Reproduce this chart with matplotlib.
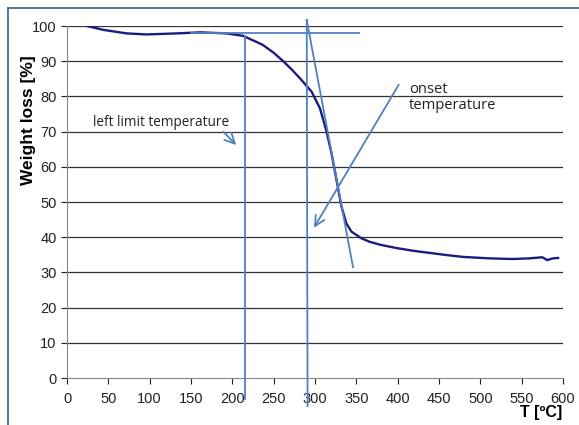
import matplotlib.pyplot as plt
from matplotlib.lines import Line2D

# TGA curve
temp = [24, 44, 72, 96, 133, 161, 193, 213, 229, 237, 250, 262, 272, 282, 296, 306, 314, 320, 326, 332, 338, 344, 356, 366,
        380, 399, 420, 440, 460, 479, 510, 539, 560, 575, 581, 588, 594]
weight = [100, 98.9, 97.9, 97.6, 97.9, 98.2, 97.9, 97.2, 95.5, 94.6, 92.4, 89.9, 87.6, 85.1, 81.3, 76.6, 70.0, 63.8, 56.3, 48.7, 43.9, 41.6, 39.7, 38.7,
          37.8, 36.9, 36.1, 35.5, 34.9, 34.4, 34.0, 33.8, 34.0, 34.3, 33.5, 34.0, 34.1]

xticks = list(range(0, 601, 50))
yticks = list(range(0, 101, 10))

# construction lines
left_limit_T = 215
onset_T = 291
plateau_W = 98
tangent_T = [290, 346]
tangent_W = [101.7, 31.5]

line_col = "#4f81bd"
curve_col = "#1c1c80"

fig = plt.figure(figsize=(5.79, 4.25), dpi=100)
ax = fig.add_axes([67/579, 1-378/425, (563-67)/579, (378-26)/425])

for v in yticks[1:]:
    ax.axhline(v, color="#333333", lw=0.9, zorder=1)

ax.plot(temp, weight, color=curve_col, lw=1.7, zorder=3)

# vertical / horizontal / tangent lines
ax.plot([left_limit_T, left_limit_T], [97.2, -6], color=line_col, lw=1.3, clip_on=False, zorder=4)
ax.plot([onset_T - 1, onset_T], [101.7, -8], color=line_col, lw=1.3, clip_on=False, zorder=4)
ax.plot([150, 353], [plateau_W, plateau_W], color=line_col, lw=1.3, clip_on=False, zorder=4)
ax.plot(tangent_T, tangent_W, color=line_col, lw=1.3, clip_on=False, zorder=4)

ax.annotate("", xy=(297, 42), xytext=(403, 84),
            arrowprops=dict(arrowstyle="->", color=line_col, lw=1.3, mutation_scale=18))
ax.annotate("", xy=(207, 65.6), xytext=(187, 70.5),
            arrowprops=dict(arrowstyle="->", color=line_col, lw=1.3, mutation_scale=18))

ax.text(31, 72.7, "left limit temperature", fontsize=9.8, family="Open Sans", va="center", color="#222222")
ax.text(414, 79.8, "onset\ntemperature", fontsize=10.6, family="Open Sans", va="center", color="#222222", linespacing=1.1)

ax.set_xlim(0, 600)
ax.set_ylim(0, 100)
ax.set_xticks(xticks)
ax.set_yticks(yticks)
ax.tick_params(axis="both", labelsize=10.5, colors="#222222", length=4, width=0.8)
ax.tick_params(axis="x", pad=6)
for lab in ax.get_xticklabels() + ax.get_yticklabels():
    lab.set_family("Liberation Sans")
for s in ["top", "right"]:
    ax.spines[s].set_visible(False)
ax.spines["left"].set_color("#888888")
ax.spines["bottom"].set_color("#888888")

fig.text(28/579, 1-120/425, "Weight loss [%]", rotation=90, fontsize=12.5, fontweight="bold",
         family="Liberation Sans", ha="center", va="center")
fig.text(541/579, 1-413/425, "T [ºC]", fontsize=11.5, fontweight="bold",
         family="Liberation Sans", ha="center", va="center")

# frame around the picture
fig.add_artist(Line2D([8/579, 8/579], [0, 1-8/425], color="#3a5f8a", lw=1.2))
fig.add_artist(Line2D([8/579, 1], [1-8/425, 1-8/425], color="#3a5f8a", lw=1.2))

fig.savefig("out.png", dpi=100)
